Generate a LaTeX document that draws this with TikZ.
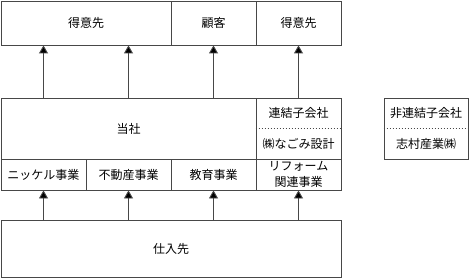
\documentclass[tikz,border=0pt]{standalone}
\usepackage{fontspec}
\newfontfamily\jp{Noto Sans CJK JP}
\usetikzlibrary{arrows.meta}
\begin{document}
\begin{tikzpicture}[x=1pt,y=-1pt,
  line width=0.9pt,
  box/.style={draw=black!72, inner sep=0pt, font=\jp\fontsize{12}{16}\selectfont, align=center},
  lbl/.style={inner sep=0pt, font=\jp\fontsize{12}{16}\selectfont, align=center},
  arr/.style={draw=black!72, -{Triangle[length=8pt,width=9pt,fill=black]}},
  dots/.style={draw=black!72, line width=0.9pt, dash pattern=on 1pt off 2pt}]
\useasboundingbox (0,0) rectangle (469,278);
% top row
\node[box, minimum width=170, minimum height=44] (t1) at (86,23) {得意先};
\node[box, minimum width=85, minimum height=44] (t2) at (213.5,23) {顧客};
\node[box, minimum width=85, minimum height=44] (t3) at (298.5,23) {得意先};
% middle
\node[box, minimum width=255, minimum height=61] (tosha) at (128.5,128.5) {当社};
\node[box, minimum width=85, minimum height=61] (sub) at (298.5,128.5) {};
\draw[dots] (sub.west) -- (sub.east);
\node[lbl] (rk) at (298.5,113) {連結子会社};
\node[lbl] (ng) at (298.5,143.5) {㈱なごみ設計};
% business row
\node[box, minimum width=85, minimum height=31] (b1) at (43.5,174.5) {ニッケル事業};
\node[box, minimum width=85, minimum height=31] (b2) at (128.5,174.5) {不動産事業};
\node[box, minimum width=85, minimum height=31] (b3) at (213.5,174.5) {教育事業};
\node[box, minimum width=85, minimum height=31] (b4) at (298.5,174.5) {リフォーム\\関連事業};
% bottom
\node[box, minimum width=340, minimum height=57] (sh) at (171,248.5) {仕入先};
% non-consolidated
\node[box, minimum width=84, minimum height=61] (nc) at (426,128.5) {};
\draw[dots] (nc.west) -- (nc.east);
\node[lbl] (nr) at (426,113) {非連結子会社};
\node[lbl] (sm) at (426,143.5) {志村産業㈱};
% arrows
\draw[arr] (sh.north -| b1) -- (b1.south);
\draw[arr] (sh.north -| b2) -- (b2.south);
\draw[arr] (sh.north -| b3) -- (b3.south);
\draw[arr] (sh.north -| b4) -- (b4.south);
\draw[arr] (tosha.north -| b1) -- (t1.south -| b1);
\draw[arr] (tosha.north -| b2) -- (t1.south -| b2);
\draw[arr] (tosha.north -| b3) -- (t2.south);
\draw[arr] (sub.north) -- (t3.south);
\end{tikzpicture}
\end{document}
